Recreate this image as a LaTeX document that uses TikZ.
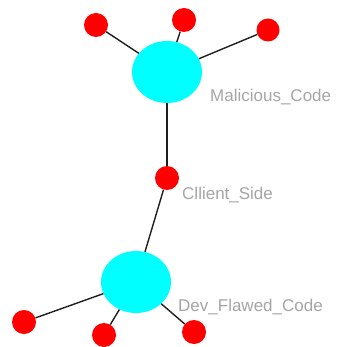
\documentclass[tikz,border=0pt]{standalone}
\usepackage{fontspec}
\setmainfont{Liberation Sans}
\usetikzlibrary{shapes.geometric}
\definecolor{hubcyan}{RGB}{0,255,255}
\definecolor{leafred}{RGB}{255,0,0}
\definecolor{labelgray}{RGB}{165,165,165}
\definecolor{edgegray}{RGB}{30,30,30}
\tikzset{
  hub/.style={ellipse, fill=hubcyan, minimum width=70pt, minimum height=62pt, inner sep=0pt},
  leaf/.style={circle, fill=leafred, minimum size=24pt, inner sep=0pt},
  link/.style={draw=edgegray, line width=1.4pt},
  tag/.style={anchor=west, text=labelgray, font=\fontsize{17}{17}\selectfont, inner sep=0pt}
}
\begin{document}
\begin{tikzpicture}[x=1pt,y=-1pt]
  \useasboundingbox (0,0) rectangle (339,347);
  % nodes
  \node[hub]  (mal) at (167,72) {};
  \node[hub]  (dev) at (136,282) {};
  \node[leaf] (cli) at (167,178) {};
  \node[leaf] (m1)  at (96,25) {};
  \node[leaf] (m2)  at (184,20) {};
  \node[leaf, minimum size=23pt] (m3) at (268,30) {};
  \node[leaf] (d1)  at (24,322) {};
  \node[leaf] (d2)  at (104,335) {};
  \node[leaf] (d3)  at (194,332) {};
  % connectors between node borders
  \draw[link] (mal) -- (m1);
  \draw[link] (mal) -- (m2);
  \draw[link] (mal) -- (m3);
  \draw[link] (mal) -- (cli);
  \draw[link] (cli) -- (dev);
  \draw[link] (dev) -- (d1);
  \draw[link] (dev) -- (d2);
  \draw[link] (dev) -- (d3);
  % labels
  \node[tag] (lmal) at (210,97) {Malicious\_Code};
  \node[tag] (lcli) at (182,195) {Cllient\_Side};
  \node[tag] (ldev) at (178,307) {Dev\_Flawed\_Code};
\end{tikzpicture}
\end{document}
